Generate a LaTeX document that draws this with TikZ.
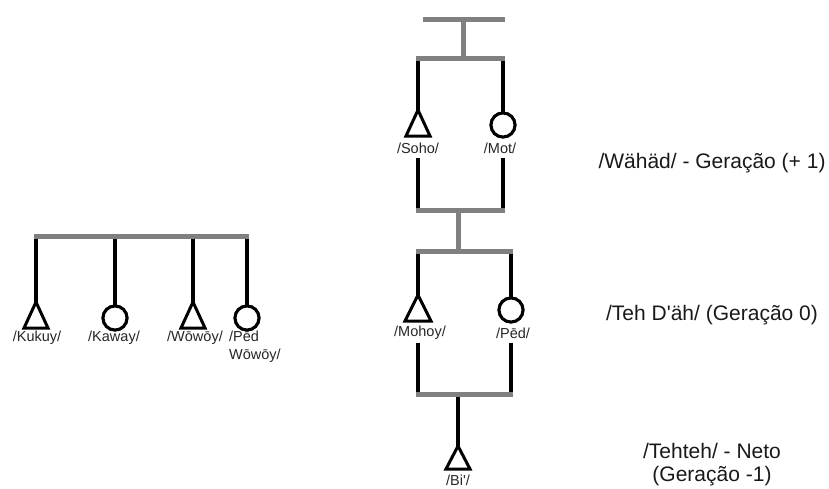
\documentclass[tikz,border=0pt]{standalone}
\usepackage{fontspec}
\setmainfont{Liberation Sans}
\begin{document}
\begin{tikzpicture}[x=1pt,y=-1pt,
  genbar/.style={draw=barcol,line width=5pt},
  kin/.style={draw=black,line width=4pt},
  tri/.style={draw=black,line width=3pt,fill=white,line join=miter},
  circ/.style={circle,draw=black,line width=3pt,fill=white,minimum size=24pt,inner sep=0pt},
  lab/.style={font=\fontsize{14.5}{18}\selectfont,inner sep=0pt,text=black!85},
  genlab/.style={font=\fontsize{21}{23}\selectfont,inner sep=0pt,align=center,text=black!90}]
\definecolor{barcol}{RGB}{128,128,128}
\useasboundingbox (0,0) rectangle (829,488);

% ---------- left sibling group ----------
\coordinate (lbarL) at (34,236);
\coordinate (lbarR) at (249,236);
\coordinate (kukuy) at (36,302);
\node[circ] (kaway) at (115,318) {};
\coordinate (wowoy) at (193,302);
\node[circ] (pedw) at (247,318) {};
\draw[kin] (kukuy |- lbarL) -- (kukuy);
\draw[kin] (kaway |- lbarL) -- (kaway.north);
\draw[kin] (wowoy |- lbarL) -- (wowoy);
\draw[kin] (pedw |- lbarL) -- (pedw.north);
\draw[genbar] (lbarL) -- (lbarR);
\draw[tri] (kukuy) -- ++(12,26) -- ++(-24,0) -- cycle;
\draw[tri] (wowoy) -- ++(12,26) -- ++(-24,0) -- cycle;
\node[circ] at (kaway) {};
\node[circ] at (pedw) {};
\node[lab] (kukuylab) at (37,338) {/Kukuy/};
\node[lab] (kawaylab) at (114,338) {/Kaway/};
\node[lab] (wowoylab) at (195,338) {/Wōwōy/};
\node[lab,anchor=north west,align=left] (pedwlab) at (229,331) {/Pēd\\Wōwōy/};

% ---------- right tree ----------
\coordinate (topL) at (423,19);
\coordinate (topR) at (505,19);
\coordinate (stem1) at (463,19);
\coordinate (b1L) at (416,58);
\coordinate (b1R) at (505,58);
\coordinate (soho) at (418,110);
\node[circ] (mot) at (503,125) {};
\coordinate (b2L) at (416,210);
\coordinate (b2R) at (505,210);
\coordinate (stem2) at (458,210);
\coordinate (b3L) at (416,251);
\coordinate (b3R) at (513,251);
\coordinate (mohoy) at (418,295);
\node[circ] (ped) at (511,310) {};
\coordinate (b4L) at (416,394);
\coordinate (b4R) at (513,394);
\coordinate (stem4) at (458,394);
\coordinate (bi) at (458,446);

\node[lab] (soholab) at (418,148) {/Soho/};
\node[lab] (motlab) at (500,148) {/Mot/};
\node[lab] (mohoylab) at (420,333) {/Mohoy/};
\node[lab] (pedlab) at (513,333) {/Pēd/};
\node[lab] (bilab) at (458,480.5) {/Bi\textquotesingle/};

% verticals
\draw[kin] (soho |- b1L) -- (soho);
\draw[kin] (mot |- b1L) -- (mot.north);
\draw[kin] (418,158) -- (soho |- b2L);
\draw[kin] (503,158) -- (mot |- b2L);
\draw[kin] (mohoy |- b3L) -- (mohoy);
\draw[kin] (ped |- b3L) -- (ped.north);
\draw[kin] (418,343) -- (mohoy |- b4L);
\draw[kin] (511,343) -- (ped |- b4L);
\draw[kin] (stem4) -- (bi);

% gray bars
\draw[genbar] (topL) -- (topR);
\draw[genbar] (stem1) -- (stem1 |- b1L);
\draw[genbar] (b1L) -- (b1R);
\draw[genbar] (b2L) -- (b2R);
\draw[genbar] (stem2) -- (stem2 |- b3L);
\draw[genbar] (b3L) -- (b3R);
\draw[genbar] (b4L) -- (b4R);

% symbols
\draw[tri] (soho) -- ++(12,26) -- ++(-24,0) -- cycle;
\draw[tri] (mohoy) -- ++(13,26) -- ++(-26,0) -- cycle;
\draw[tri] (bi) -- ++(12,23) -- ++(-24,0) -- cycle;
\node[circ] at (mot) {};
\node[circ] at (ped) {};

% generation labels
\node[genlab] (g1) at (712,163) {/Wähäd/ - Geração (+ 1)};
\node[genlab] (g0) at (712,315) {/Teh D\textquotesingle äh/ (Geração 0)};
\node[genlab] (gm1) at (712,465) {/Tehteh/ - Neto\\(Geração -1)};
\end{tikzpicture}
\end{document}
